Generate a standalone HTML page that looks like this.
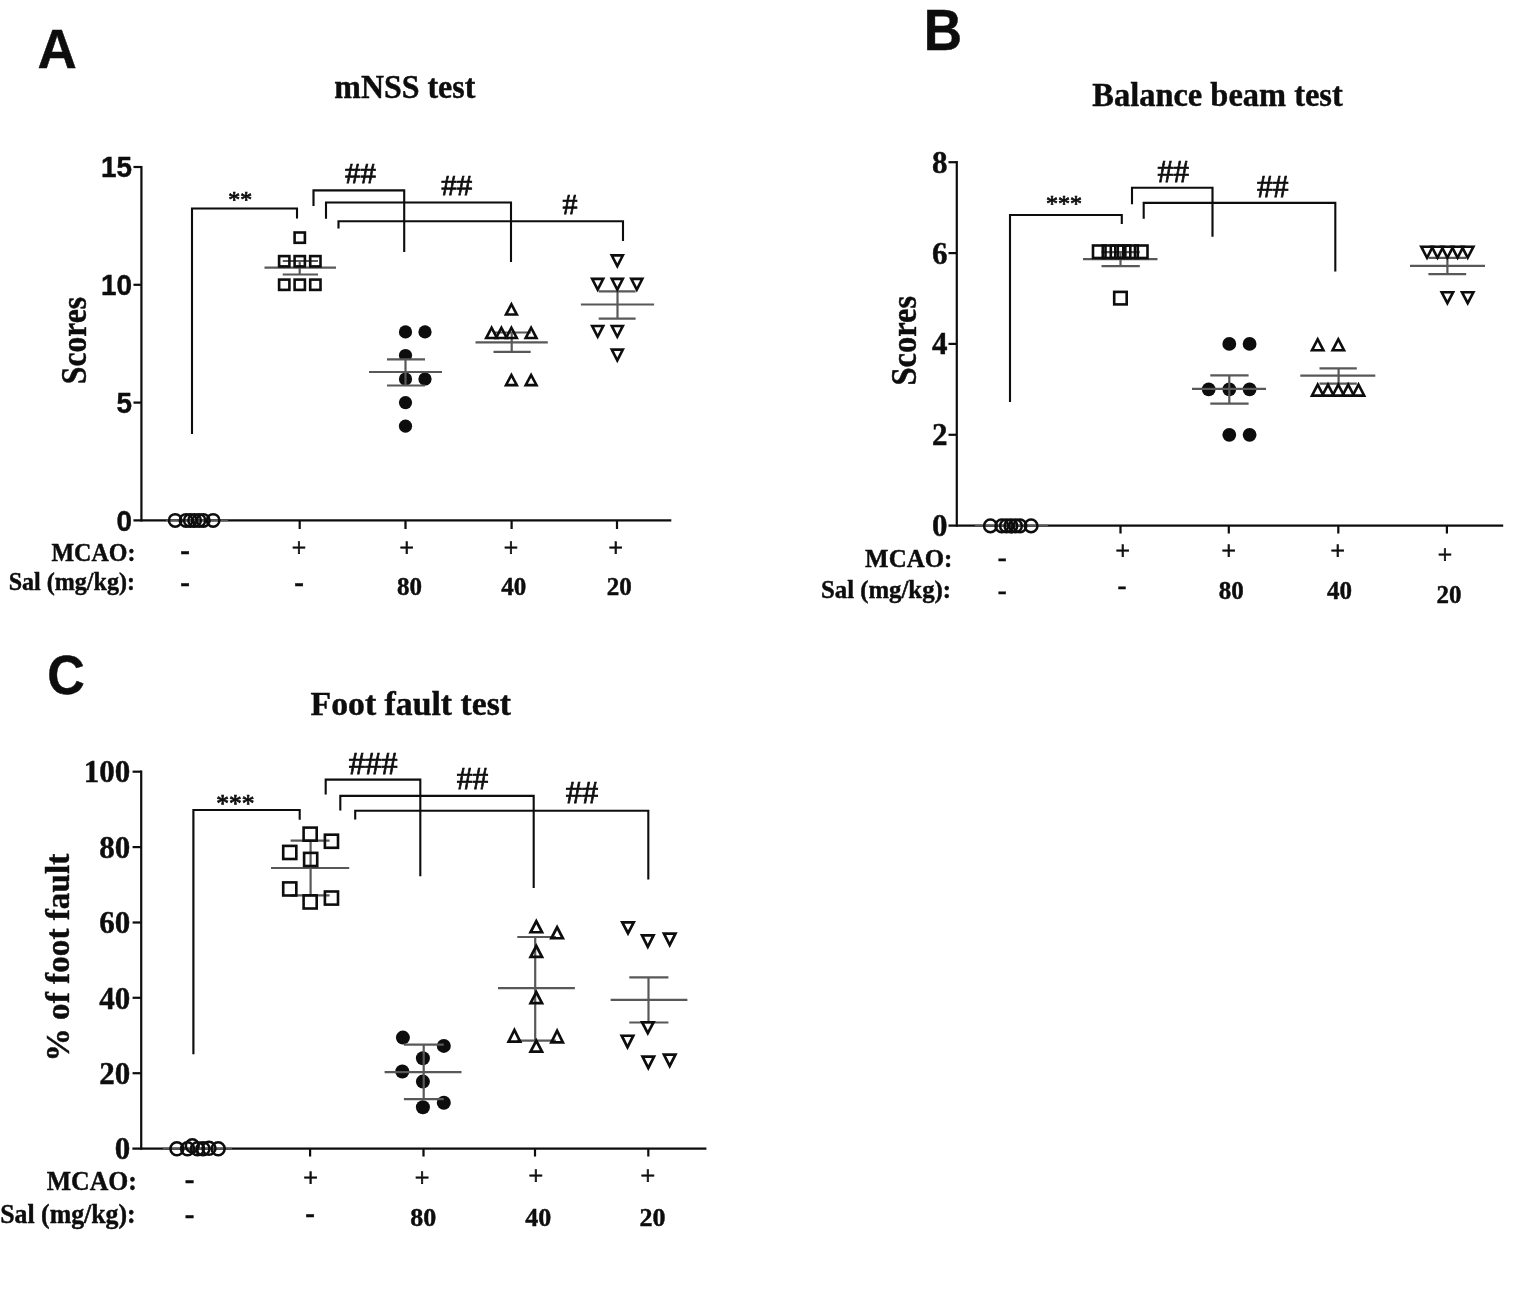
<!DOCTYPE html>
<html><head><meta charset="utf-8"><title>Figure</title>
<style>html,body{margin:0;padding:0;background:#fff}svg{display:block}text{fill:#0a0a0a}</style>
</head><body>
<svg width="1535" height="1314" viewBox="0 0 1535 1314">
<defs><filter id="soft" x="0" y="0" width="100%" height="100%" filterUnits="userSpaceOnUse"><feGaussianBlur stdDeviation="0.45"/></filter></defs>
<rect width="1535" height="1314" fill="#ffffff"/>
<g filter="url(#soft)">
<g id="panelA">
<text x="37.6" y="68.0" font-family='"Liberation Sans","DejaVu Sans",sans-serif' font-size="55.5" font-weight="bold" textLength="39.3" lengthAdjust="spacingAndGlyphs" stroke="#0a0a0a" stroke-width="0.4">A</text>
<text x="334.3" y="98.2" font-family='"Liberation Serif","DejaVu Serif",serif' font-size="33" font-weight="bold" textLength="141.0" lengthAdjust="spacingAndGlyphs" stroke="#0a0a0a" stroke-width="0.4">mNSS test</text>
<text x="86.0" y="384.2" font-family='"Liberation Serif","DejaVu Serif",serif' font-size="35" font-weight="bold" textLength="87.3" lengthAdjust="spacingAndGlyphs" transform="rotate(-90 86.0 384.2)" stroke="#0a0a0a" stroke-width="0.4">Scores</text>
<line x1="141.4" y1="165.9" x2="141.4" y2="521.5" stroke="#0a0a0a" stroke-width="2.2" stroke-linecap="butt"/>
<line x1="133.5" y1="520.4" x2="671.3" y2="520.4" stroke="#0a0a0a" stroke-width="2.2" stroke-linecap="butt"/>
<line x1="133.5" y1="402.6" x2="141.4" y2="402.6" stroke="#0a0a0a" stroke-width="2.2" stroke-linecap="butt"/>
<line x1="133.5" y1="284.8" x2="141.4" y2="284.8" stroke="#0a0a0a" stroke-width="2.2" stroke-linecap="butt"/>
<line x1="133.5" y1="167.0" x2="141.4" y2="167.0" stroke="#0a0a0a" stroke-width="2.2" stroke-linecap="butt"/>
<text x="131.9" y="530.8" font-family='"Liberation Sans","DejaVu Sans",sans-serif' font-size="29.5" font-weight="bold" text-anchor="end" textLength="15.5" lengthAdjust="spacingAndGlyphs" stroke="#0a0a0a" stroke-width="0.4">0</text>
<text x="131.9" y="413.0" font-family='"Liberation Sans","DejaVu Sans",sans-serif' font-size="29.5" font-weight="bold" text-anchor="end" textLength="15.5" lengthAdjust="spacingAndGlyphs" stroke="#0a0a0a" stroke-width="0.4">5</text>
<text x="131.9" y="295.2" font-family='"Liberation Sans","DejaVu Sans",sans-serif' font-size="29.5" font-weight="bold" text-anchor="end" textLength="31.0" lengthAdjust="spacingAndGlyphs" stroke="#0a0a0a" stroke-width="0.4">10</text>
<text x="131.9" y="177.4" font-family='"Liberation Sans","DejaVu Sans",sans-serif' font-size="29.5" font-weight="bold" text-anchor="end" textLength="31.0" lengthAdjust="spacingAndGlyphs" stroke="#0a0a0a" stroke-width="0.4">15</text>
<line x1="299.7" y1="520.4" x2="299.7" y2="529.0" stroke="#0a0a0a" stroke-width="2.2" stroke-linecap="butt"/>
<line x1="405.5" y1="520.4" x2="405.5" y2="529.0" stroke="#0a0a0a" stroke-width="2.2" stroke-linecap="butt"/>
<line x1="511.6" y1="520.4" x2="511.6" y2="529.0" stroke="#0a0a0a" stroke-width="2.2" stroke-linecap="butt"/>
<line x1="617.0" y1="520.4" x2="617.0" y2="529.0" stroke="#0a0a0a" stroke-width="2.2" stroke-linecap="butt"/>
<line x1="193.9" y1="520.4" x2="193.9" y2="527.6" stroke="#0a0a0a" stroke-width="2.2" stroke-linecap="butt"/>
<line x1="166.0" y1="520.4" x2="228.0" y2="520.4" stroke="#595959" stroke-width="1.6" stroke-linecap="butt"/>
<circle cx="175.2" cy="520.4" r="6.25" fill="#fff" fill-opacity="0" stroke="#0a0a0a" stroke-width="2.5"/>
<circle cx="186.0" cy="520.4" r="6.25" fill="#fff" fill-opacity="0" stroke="#0a0a0a" stroke-width="2.5"/>
<circle cx="190.3" cy="520.4" r="6.25" fill="#fff" fill-opacity="0" stroke="#0a0a0a" stroke-width="2.5"/>
<circle cx="194.6" cy="520.4" r="6.25" fill="#fff" fill-opacity="0" stroke="#0a0a0a" stroke-width="2.5"/>
<circle cx="199.0" cy="520.4" r="6.25" fill="#fff" fill-opacity="0" stroke="#0a0a0a" stroke-width="2.5"/>
<circle cx="203.3" cy="520.4" r="6.25" fill="#fff" fill-opacity="0" stroke="#0a0a0a" stroke-width="2.5"/>
<circle cx="213.1" cy="520.4" r="6.25" fill="#fff" fill-opacity="0" stroke="#0a0a0a" stroke-width="2.5"/>
<line x1="264.5" y1="267.7" x2="336.0" y2="267.7" stroke="#595959" stroke-width="2.2" stroke-linecap="butt"/>
<line x1="282.7" y1="261.0" x2="318.0" y2="261.0" stroke="#595959" stroke-width="2.2" stroke-linecap="butt"/>
<line x1="282.7" y1="274.5" x2="318.0" y2="274.5" stroke="#595959" stroke-width="2.2" stroke-linecap="butt"/>
<line x1="299.7" y1="261.0" x2="299.7" y2="274.5" stroke="#595959" stroke-width="2.2" stroke-linecap="butt"/>
<rect x="294.6" y="232.5" width="10.3" height="10.3" fill="none" stroke="#0a0a0a" stroke-width="2.6"/>
<rect x="279.1" y="256.1" width="10.3" height="10.3" fill="none" stroke="#0a0a0a" stroke-width="2.6"/>
<rect x="279.1" y="279.6" width="10.3" height="10.3" fill="none" stroke="#0a0a0a" stroke-width="2.6"/>
<rect x="294.6" y="256.1" width="10.3" height="10.3" fill="none" stroke="#0a0a0a" stroke-width="2.6"/>
<rect x="294.6" y="279.6" width="10.3" height="10.3" fill="none" stroke="#0a0a0a" stroke-width="2.6"/>
<rect x="310.2" y="256.1" width="10.3" height="10.3" fill="none" stroke="#0a0a0a" stroke-width="2.6"/>
<rect x="310.2" y="279.6" width="10.3" height="10.3" fill="none" stroke="#0a0a0a" stroke-width="2.6"/>
<circle cx="405.5" cy="331.9" r="6.6" fill="#0a0a0a"/>
<circle cx="425.0" cy="331.9" r="6.6" fill="#0a0a0a"/>
<circle cx="405.5" cy="355.5" r="6.6" fill="#0a0a0a"/>
<circle cx="405.5" cy="379.0" r="6.6" fill="#0a0a0a"/>
<circle cx="425.0" cy="379.0" r="6.6" fill="#0a0a0a"/>
<circle cx="405.5" cy="402.6" r="6.6" fill="#0a0a0a"/>
<circle cx="405.5" cy="426.2" r="6.6" fill="#0a0a0a"/>
<rect x="397" y="360" width="17" height="5" fill="#fff"/>
<line x1="369.0" y1="372.0" x2="442.0" y2="372.0" stroke="#595959" stroke-width="2.2" stroke-linecap="butt"/>
<line x1="387.0" y1="359.4" x2="425.0" y2="359.4" stroke="#595959" stroke-width="2.2" stroke-linecap="butt"/>
<line x1="387.0" y1="385.5" x2="425.0" y2="385.5" stroke="#595959" stroke-width="2.2" stroke-linecap="butt"/>
<line x1="405.5" y1="359.4" x2="405.5" y2="385.5" stroke="#595959" stroke-width="2.2" stroke-linecap="butt"/>
<line x1="475.5" y1="342.3" x2="547.8" y2="342.3" stroke="#595959" stroke-width="2.2" stroke-linecap="butt"/>
<line x1="493.5" y1="332.5" x2="530.7" y2="332.5" stroke="#595959" stroke-width="2.2" stroke-linecap="butt"/>
<line x1="493.5" y1="351.9" x2="530.7" y2="351.9" stroke="#595959" stroke-width="2.2" stroke-linecap="butt"/>
<line x1="511.7" y1="332.5" x2="511.7" y2="351.9" stroke="#595959" stroke-width="2.2" stroke-linecap="butt"/>
<path d="M511.40,301.46 L518.95,315.76 L503.85,315.76 Z M511.40,307.03 L514.64,313.16 L508.16,313.16 Z" fill="#0a0a0a" fill-rule="evenodd"/>
<path d="M491.60,325.02 L499.15,339.32 L484.05,339.32 Z M491.60,330.59 L494.84,336.72 L488.36,336.72 Z" fill="#0a0a0a" fill-rule="evenodd"/>
<path d="M501.40,325.02 L508.95,339.32 L493.85,339.32 Z M501.40,330.59 L504.64,336.72 L498.16,336.72 Z" fill="#0a0a0a" fill-rule="evenodd"/>
<path d="M511.40,325.02 L518.95,339.32 L503.85,339.32 Z M511.40,330.59 L514.64,336.72 L508.16,336.72 Z" fill="#0a0a0a" fill-rule="evenodd"/>
<path d="M531.10,325.02 L538.65,339.32 L523.55,339.32 Z M531.10,330.59 L534.34,336.72 L527.86,336.72 Z" fill="#0a0a0a" fill-rule="evenodd"/>
<path d="M511.40,372.14 L518.95,386.44 L503.85,386.44 Z M511.40,377.71 L514.64,383.84 L508.16,383.84 Z" fill="#0a0a0a" fill-rule="evenodd"/>
<path d="M531.10,372.14 L538.65,386.44 L523.55,386.44 Z M531.10,377.71 L534.34,383.84 L527.86,383.84 Z" fill="#0a0a0a" fill-rule="evenodd"/>
<line x1="580.9" y1="304.5" x2="654.1" y2="304.5" stroke="#595959" stroke-width="2.2" stroke-linecap="butt"/>
<line x1="598.7" y1="291.4" x2="635.6" y2="291.4" stroke="#595959" stroke-width="2.2" stroke-linecap="butt"/>
<line x1="598.7" y1="318.6" x2="635.6" y2="318.6" stroke="#595959" stroke-width="2.2" stroke-linecap="butt"/>
<line x1="617.5" y1="291.4" x2="617.5" y2="318.6" stroke="#595959" stroke-width="2.2" stroke-linecap="butt"/>
<path d="M609.65,254.04 L624.95,254.04 L617.30,268.94 Z M613.91,256.64 L620.69,256.64 L617.30,263.25 Z" fill="#0a0a0a" fill-rule="evenodd"/>
<path d="M590.05,277.60 L605.35,277.60 L597.70,292.50 Z M594.31,280.20 L601.09,280.20 L597.70,286.81 Z" fill="#0a0a0a" fill-rule="evenodd"/>
<path d="M609.65,277.60 L624.95,277.60 L617.30,292.50 Z M613.91,280.20 L620.69,280.20 L617.30,286.81 Z" fill="#0a0a0a" fill-rule="evenodd"/>
<path d="M629.15,277.60 L644.45,277.60 L636.80,292.50 Z M633.41,280.20 L640.19,280.20 L636.80,286.81 Z" fill="#0a0a0a" fill-rule="evenodd"/>
<path d="M590.05,324.72 L605.35,324.72 L597.70,339.62 Z M594.31,327.32 L601.09,327.32 L597.70,333.93 Z" fill="#0a0a0a" fill-rule="evenodd"/>
<path d="M609.65,324.72 L624.95,324.72 L617.30,339.62 Z M613.91,327.32 L620.69,327.32 L617.30,333.93 Z" fill="#0a0a0a" fill-rule="evenodd"/>
<path d="M609.65,348.28 L624.95,348.28 L617.30,363.18 Z M613.91,350.88 L620.69,350.88 L617.30,357.49 Z" fill="#0a0a0a" fill-rule="evenodd"/>
<polyline points="192.0,434.0 192.0,208.5 297.0,208.5 297.0,218.4" fill="none" stroke="#0a0a0a" stroke-width="2.1" stroke-linejoin="miter"/>
<polyline points="313.5,206.0 313.5,190.4 404.2,190.4 404.2,252.0" fill="none" stroke="#0a0a0a" stroke-width="2.1" stroke-linejoin="miter"/>
<polyline points="326.0,218.7 326.0,202.5 511.0,202.5 511.0,262.0" fill="none" stroke="#0a0a0a" stroke-width="2.1" stroke-linejoin="miter"/>
<polyline points="338.5,228.6 338.5,221.3 623.0,221.3 623.0,241.0" fill="none" stroke="#0a0a0a" stroke-width="2.1" stroke-linejoin="miter"/>
<text x="240.2" y="206.6" font-family='"Liberation Serif","DejaVu Serif",serif' font-size="23.8" font-weight="normal" text-anchor="middle" stroke="#0a0a0a" stroke-width="0.75">**</text>
<text x="360.4" y="183.3" font-family='"Liberation Serif","DejaVu Serif",serif' font-size="30" font-weight="normal" text-anchor="middle" textLength="31.0" lengthAdjust="spacingAndGlyphs" stroke="#0a0a0a" stroke-width="0.75">##</text>
<text x="456.7" y="195.3" font-family='"Liberation Serif","DejaVu Serif",serif' font-size="30" font-weight="normal" text-anchor="middle" textLength="31.0" lengthAdjust="spacingAndGlyphs" stroke="#0a0a0a" stroke-width="0.75">##</text>
<text x="570.0" y="214.0" font-family='"Liberation Serif","DejaVu Serif",serif' font-size="30" font-weight="normal" text-anchor="middle" stroke="#0a0a0a" stroke-width="0.75">#</text>
<text x="135.4" y="560.7" font-family='"Liberation Serif","DejaVu Serif",serif' font-size="25.5" font-weight="bold" text-anchor="end" textLength="84.0" lengthAdjust="spacingAndGlyphs" stroke="#0a0a0a" stroke-width="0.4">MCAO:</text>
<text x="135.0" y="590.1" font-family='"Liberation Serif","DejaVu Serif",serif' font-size="25.5" font-weight="bold" text-anchor="end" textLength="126.3" lengthAdjust="spacingAndGlyphs" stroke="#0a0a0a" stroke-width="0.4">Sal (mg/kg):</text>
<text x="185.0" y="559.9" font-family='"Liberation Serif","DejaVu Serif",serif' font-size="29" font-weight="bold" text-anchor="middle" stroke="#0a0a0a" stroke-width="0.4">-</text>
<text x="185.0" y="592.3" font-family='"Liberation Serif","DejaVu Serif",serif' font-size="29" font-weight="bold" text-anchor="middle" stroke="#0a0a0a" stroke-width="0.4">-</text>
<text x="299.0" y="592.3" font-family='"Liberation Serif","DejaVu Serif",serif' font-size="29" font-weight="bold" text-anchor="middle" stroke="#0a0a0a" stroke-width="0.4">-</text>
<text x="299.0" y="556.0" font-family='"Liberation Serif","DejaVu Serif",serif' font-size="25.5" font-weight="normal" text-anchor="middle" stroke="#0a0a0a" stroke-width="0.75">+</text>
<text x="406.8" y="556.0" font-family='"Liberation Serif","DejaVu Serif",serif' font-size="25.5" font-weight="normal" text-anchor="middle" stroke="#0a0a0a" stroke-width="0.75">+</text>
<text x="511.0" y="556.0" font-family='"Liberation Serif","DejaVu Serif",serif' font-size="25.5" font-weight="normal" text-anchor="middle" stroke="#0a0a0a" stroke-width="0.75">+</text>
<text x="615.8" y="556.0" font-family='"Liberation Serif","DejaVu Serif",serif' font-size="25.5" font-weight="normal" text-anchor="middle" stroke="#0a0a0a" stroke-width="0.75">+</text>
<text x="409.4" y="595.0" font-family='"Liberation Serif","DejaVu Serif",serif' font-size="25" font-weight="bold" text-anchor="middle" stroke="#0a0a0a" stroke-width="0.4">80</text>
<text x="513.7" y="595.0" font-family='"Liberation Serif","DejaVu Serif",serif' font-size="25" font-weight="bold" text-anchor="middle" stroke="#0a0a0a" stroke-width="0.4">40</text>
<text x="619.2" y="595.0" font-family='"Liberation Serif","DejaVu Serif",serif' font-size="25" font-weight="bold" text-anchor="middle" stroke="#0a0a0a" stroke-width="0.4">20</text>
</g>
<g id="panelB">
<text x="923.8" y="50.3" font-family='"Liberation Sans","DejaVu Sans",sans-serif' font-size="57" font-weight="bold" textLength="38.3" lengthAdjust="spacingAndGlyphs" stroke="#0a0a0a" stroke-width="0.4">B</text>
<text x="1092.3" y="105.7" font-family='"Liberation Serif","DejaVu Serif",serif' font-size="33.5" font-weight="bold" textLength="250.5" lengthAdjust="spacingAndGlyphs" stroke="#0a0a0a" stroke-width="0.4">Balance beam test</text>
<text x="916.3" y="385.5" font-family='"Liberation Serif","DejaVu Serif",serif' font-size="35.5" font-weight="bold" textLength="89.7" lengthAdjust="spacingAndGlyphs" transform="rotate(-90 916.3 385.5)" stroke="#0a0a0a" stroke-width="0.4">Scores</text>
<line x1="956.8" y1="161.1" x2="956.8" y2="526.7" stroke="#0a0a0a" stroke-width="2.2" stroke-linecap="butt"/>
<line x1="948.5" y1="525.6" x2="1503.2" y2="525.6" stroke="#0a0a0a" stroke-width="2.2" stroke-linecap="butt"/>
<line x1="948.5" y1="434.8" x2="956.8" y2="434.8" stroke="#0a0a0a" stroke-width="2.2" stroke-linecap="butt"/>
<line x1="948.5" y1="343.9" x2="956.8" y2="343.9" stroke="#0a0a0a" stroke-width="2.2" stroke-linecap="butt"/>
<line x1="948.5" y1="253.1" x2="956.8" y2="253.1" stroke="#0a0a0a" stroke-width="2.2" stroke-linecap="butt"/>
<line x1="948.5" y1="162.2" x2="956.8" y2="162.2" stroke="#0a0a0a" stroke-width="2.2" stroke-linecap="butt"/>
<text x="947.4" y="536.0" font-family='"Liberation Serif","DejaVu Serif",serif' font-size="31" font-weight="bold" text-anchor="end" stroke="#0a0a0a" stroke-width="0.4">0</text>
<text x="947.4" y="445.2" font-family='"Liberation Serif","DejaVu Serif",serif' font-size="31" font-weight="bold" text-anchor="end" stroke="#0a0a0a" stroke-width="0.4">2</text>
<text x="947.4" y="354.3" font-family='"Liberation Serif","DejaVu Serif",serif' font-size="31" font-weight="bold" text-anchor="end" stroke="#0a0a0a" stroke-width="0.4">4</text>
<text x="947.4" y="263.5" font-family='"Liberation Serif","DejaVu Serif",serif' font-size="31" font-weight="bold" text-anchor="end" stroke="#0a0a0a" stroke-width="0.4">6</text>
<text x="947.4" y="172.6" font-family='"Liberation Serif","DejaVu Serif",serif' font-size="31" font-weight="bold" text-anchor="end" stroke="#0a0a0a" stroke-width="0.4">8</text>
<line x1="1011.6" y1="525.6" x2="1011.6" y2="533.5" stroke="#0a0a0a" stroke-width="2.2" stroke-linecap="butt"/>
<line x1="1120.5" y1="525.6" x2="1120.5" y2="533.5" stroke="#0a0a0a" stroke-width="2.2" stroke-linecap="butt"/>
<line x1="1228.8" y1="525.6" x2="1228.8" y2="533.5" stroke="#0a0a0a" stroke-width="2.2" stroke-linecap="butt"/>
<line x1="1338.3" y1="525.6" x2="1338.3" y2="533.5" stroke="#0a0a0a" stroke-width="2.2" stroke-linecap="butt"/>
<line x1="1446.9" y1="525.6" x2="1446.9" y2="533.5" stroke="#0a0a0a" stroke-width="2.2" stroke-linecap="butt"/>
<line x1="975.0" y1="525.6" x2="1048.0" y2="525.6" stroke="#595959" stroke-width="1.6" stroke-linecap="butt"/>
<circle cx="990.4" cy="525.9" r="6.3" fill="#fff" fill-opacity="0" stroke="#0a0a0a" stroke-width="2.5"/>
<circle cx="1001.8" cy="525.9" r="6.3" fill="#fff" fill-opacity="0" stroke="#0a0a0a" stroke-width="2.5"/>
<circle cx="1006.4" cy="525.9" r="6.3" fill="#fff" fill-opacity="0" stroke="#0a0a0a" stroke-width="2.5"/>
<circle cx="1010.9" cy="525.9" r="6.3" fill="#fff" fill-opacity="0" stroke="#0a0a0a" stroke-width="2.5"/>
<circle cx="1015.5" cy="525.9" r="6.3" fill="#fff" fill-opacity="0" stroke="#0a0a0a" stroke-width="2.5"/>
<circle cx="1020.0" cy="525.9" r="6.3" fill="#fff" fill-opacity="0" stroke="#0a0a0a" stroke-width="2.5"/>
<circle cx="1031.1" cy="525.9" r="6.3" fill="#fff" fill-opacity="0" stroke="#0a0a0a" stroke-width="2.5"/>
<line x1="1083.0" y1="259.2" x2="1157.5" y2="259.2" stroke="#595959" stroke-width="2.2" stroke-linecap="butt"/>
<line x1="1101.5" y1="252.2" x2="1139.8" y2="252.2" stroke="#595959" stroke-width="2.2" stroke-linecap="butt"/>
<line x1="1101.5" y1="266.1" x2="1139.8" y2="266.1" stroke="#595959" stroke-width="2.2" stroke-linecap="butt"/>
<line x1="1120.5" y1="252.2" x2="1120.5" y2="266.1" stroke="#595959" stroke-width="2.2" stroke-linecap="butt"/>
<rect x="1093.0" y="245.5" width="12.5" height="12.5" fill="none" stroke="#0a0a0a" stroke-width="2.6"/>
<rect x="1102.8" y="245.5" width="12.5" height="12.5" fill="none" stroke="#0a0a0a" stroke-width="2.6"/>
<rect x="1110.8" y="245.5" width="12.5" height="12.5" fill="none" stroke="#0a0a0a" stroke-width="2.6"/>
<rect x="1117.8" y="245.5" width="12.5" height="12.5" fill="none" stroke="#0a0a0a" stroke-width="2.6"/>
<rect x="1125.3" y="245.5" width="12.5" height="12.5" fill="none" stroke="#0a0a0a" stroke-width="2.6"/>
<rect x="1135.0" y="245.5" width="12.5" height="12.5" fill="none" stroke="#0a0a0a" stroke-width="2.6"/>
<rect x="1114.2" y="291.9" width="12.5" height="12.5" fill="none" stroke="#0a0a0a" stroke-width="2.6"/>
<circle cx="1229.3" cy="343.9" r="6.9" fill="#0a0a0a"/>
<circle cx="1249.6" cy="343.9" r="6.9" fill="#0a0a0a"/>
<circle cx="1208.7" cy="389.3" r="6.9" fill="#0a0a0a"/>
<circle cx="1229.3" cy="389.3" r="6.9" fill="#0a0a0a"/>
<circle cx="1249.6" cy="389.3" r="6.9" fill="#0a0a0a"/>
<circle cx="1229.3" cy="434.8" r="6.9" fill="#0a0a0a"/>
<circle cx="1249.6" cy="434.8" r="6.9" fill="#0a0a0a"/>
<line x1="1192.0" y1="388.9" x2="1266.0" y2="388.9" stroke="#595959" stroke-width="2.2" stroke-linecap="butt"/>
<line x1="1210.3" y1="375.3" x2="1248.6" y2="375.3" stroke="#595959" stroke-width="2.2" stroke-linecap="butt"/>
<line x1="1210.3" y1="403.7" x2="1248.6" y2="403.7" stroke="#595959" stroke-width="2.2" stroke-linecap="butt"/>
<line x1="1229.3" y1="375.3" x2="1229.3" y2="403.7" stroke="#595959" stroke-width="2.2" stroke-linecap="butt"/>
<line x1="1300.3" y1="375.6" x2="1375.3" y2="375.6" stroke="#595959" stroke-width="2.2" stroke-linecap="butt"/>
<line x1="1319.5" y1="368.3" x2="1356.8" y2="368.3" stroke="#595959" stroke-width="2.2" stroke-linecap="butt"/>
<line x1="1319.5" y1="383.6" x2="1356.8" y2="383.6" stroke="#595959" stroke-width="2.2" stroke-linecap="butt"/>
<line x1="1338.6" y1="368.3" x2="1338.6" y2="383.6" stroke="#595959" stroke-width="2.2" stroke-linecap="butt"/>
<path d="M1317.70,336.42 L1325.55,351.52 L1309.85,351.52 Z M1317.70,342.06 L1321.27,348.92 L1314.13,348.92 Z" fill="#0a0a0a" fill-rule="evenodd"/>
<path d="M1338.30,336.42 L1346.15,351.52 L1330.45,351.52 Z M1338.30,342.06 L1341.87,348.92 L1334.73,348.92 Z" fill="#0a0a0a" fill-rule="evenodd"/>
<path d="M1317.70,381.84 L1325.55,396.94 L1309.85,396.94 Z M1317.70,387.48 L1321.27,394.34 L1314.13,394.34 Z" fill="#0a0a0a" fill-rule="evenodd"/>
<path d="M1328.00,381.84 L1335.85,396.94 L1320.15,396.94 Z M1328.00,387.48 L1331.57,394.34 L1324.43,394.34 Z" fill="#0a0a0a" fill-rule="evenodd"/>
<path d="M1338.30,381.84 L1346.15,396.94 L1330.45,396.94 Z M1338.30,387.48 L1341.87,394.34 L1334.73,394.34 Z" fill="#0a0a0a" fill-rule="evenodd"/>
<path d="M1348.20,381.84 L1356.05,396.94 L1340.35,396.94 Z M1348.20,387.48 L1351.77,394.34 L1344.63,394.34 Z" fill="#0a0a0a" fill-rule="evenodd"/>
<path d="M1358.50,381.84 L1366.35,396.94 L1350.65,396.94 Z M1358.50,387.48 L1362.07,394.34 L1354.93,394.34 Z" fill="#0a0a0a" fill-rule="evenodd"/>
<line x1="1410.0" y1="265.9" x2="1485.0" y2="265.9" stroke="#595959" stroke-width="2.2" stroke-linecap="butt"/>
<line x1="1428.4" y1="257.8" x2="1466.2" y2="257.8" stroke="#595959" stroke-width="2.2" stroke-linecap="butt"/>
<line x1="1428.4" y1="274.2" x2="1466.2" y2="274.2" stroke="#595959" stroke-width="2.2" stroke-linecap="butt"/>
<line x1="1447.4" y1="257.8" x2="1447.4" y2="274.2" stroke="#595959" stroke-width="2.2" stroke-linecap="butt"/>
<path d="M1419.15,245.48 L1434.85,245.48 L1427.00,260.58 Z M1423.43,248.08 L1430.57,248.08 L1427.00,254.94 Z" fill="#0a0a0a" fill-rule="evenodd"/>
<path d="M1429.65,245.48 L1445.35,245.48 L1437.50,260.58 Z M1433.93,248.08 L1441.07,248.08 L1437.50,254.94 Z" fill="#0a0a0a" fill-rule="evenodd"/>
<path d="M1439.55,245.48 L1455.25,245.48 L1447.40,260.58 Z M1443.83,248.08 L1450.97,248.08 L1447.40,254.94 Z" fill="#0a0a0a" fill-rule="evenodd"/>
<path d="M1449.75,245.48 L1465.45,245.48 L1457.60,260.58 Z M1454.03,248.08 L1461.17,248.08 L1457.60,254.94 Z" fill="#0a0a0a" fill-rule="evenodd"/>
<path d="M1459.85,245.48 L1475.55,245.48 L1467.70,260.58 Z M1464.13,248.08 L1471.27,248.08 L1467.70,254.94 Z" fill="#0a0a0a" fill-rule="evenodd"/>
<path d="M1439.55,290.90 L1455.25,290.90 L1447.40,306.00 Z M1443.83,293.50 L1450.97,293.50 L1447.40,300.36 Z" fill="#0a0a0a" fill-rule="evenodd"/>
<path d="M1459.85,290.90 L1475.55,290.90 L1467.70,306.00 Z M1464.13,293.50 L1471.27,293.50 L1467.70,300.36 Z" fill="#0a0a0a" fill-rule="evenodd"/>
<polyline points="1010.0,402.0 1010.0,215.0 1121.8,215.0 1121.8,224.0" fill="none" stroke="#0a0a0a" stroke-width="2.1" stroke-linejoin="miter"/>
<polyline points="1132.0,204.3 1132.0,187.8 1212.5,187.8 1212.5,236.7" fill="none" stroke="#0a0a0a" stroke-width="2.1" stroke-linejoin="miter"/>
<polyline points="1143.7,218.7 1143.7,202.9 1335.3,202.9 1335.3,271.6" fill="none" stroke="#0a0a0a" stroke-width="2.1" stroke-linejoin="miter"/>
<text x="1064.0" y="210.8" font-family='"Liberation Serif","DejaVu Serif",serif' font-size="24" font-weight="normal" text-anchor="middle" stroke="#0a0a0a" stroke-width="0.75">***</text>
<text x="1173.2" y="181.6" font-family='"Liberation Serif","DejaVu Serif",serif' font-size="30.5" font-weight="normal" text-anchor="middle" textLength="31.5" lengthAdjust="spacingAndGlyphs" stroke="#0a0a0a" stroke-width="0.75">##</text>
<text x="1272.8" y="196.9" font-family='"Liberation Serif","DejaVu Serif",serif' font-size="30.5" font-weight="normal" text-anchor="middle" textLength="31.5" lengthAdjust="spacingAndGlyphs" stroke="#0a0a0a" stroke-width="0.75">##</text>
<text x="952.4" y="567.3" font-family='"Liberation Serif","DejaVu Serif",serif' font-size="25.7" font-weight="bold" text-anchor="end" textLength="87.3" lengthAdjust="spacingAndGlyphs" stroke="#0a0a0a" stroke-width="0.4">MCAO:</text>
<text x="951.0" y="597.7" font-family='"Liberation Serif","DejaVu Serif",serif' font-size="25.7" font-weight="bold" text-anchor="end" textLength="130.0" lengthAdjust="spacingAndGlyphs" stroke="#0a0a0a" stroke-width="0.4">Sal (mg/kg):</text>
<text x="1002.2" y="566.0" font-family='"Liberation Serif","DejaVu Serif",serif' font-size="27" font-weight="bold" text-anchor="middle" stroke="#0a0a0a" stroke-width="0.4">-</text>
<text x="1002.2" y="599.0" font-family='"Liberation Serif","DejaVu Serif",serif' font-size="27" font-weight="bold" text-anchor="middle" stroke="#0a0a0a" stroke-width="0.4">-</text>
<text x="1122.0" y="594.0" font-family='"Liberation Serif","DejaVu Serif",serif' font-size="27" font-weight="bold" text-anchor="middle" stroke="#0a0a0a" stroke-width="0.4">-</text>
<text x="1122.6" y="558.7" font-family='"Liberation Serif","DejaVu Serif",serif' font-size="25.5" font-weight="normal" text-anchor="middle" stroke="#0a0a0a" stroke-width="0.75">+</text>
<text x="1228.8" y="558.7" font-family='"Liberation Serif","DejaVu Serif",serif' font-size="25.5" font-weight="normal" text-anchor="middle" stroke="#0a0a0a" stroke-width="0.75">+</text>
<text x="1337.7" y="558.7" font-family='"Liberation Serif","DejaVu Serif",serif' font-size="25.5" font-weight="normal" text-anchor="middle" stroke="#0a0a0a" stroke-width="0.75">+</text>
<text x="1445.0" y="562.7" font-family='"Liberation Serif","DejaVu Serif",serif' font-size="25.5" font-weight="normal" text-anchor="middle" stroke="#0a0a0a" stroke-width="0.75">+</text>
<text x="1231.2" y="599.0" font-family='"Liberation Serif","DejaVu Serif",serif' font-size="25" font-weight="bold" text-anchor="middle" stroke="#0a0a0a" stroke-width="0.4">80</text>
<text x="1339.6" y="599.0" font-family='"Liberation Serif","DejaVu Serif",serif' font-size="25" font-weight="bold" text-anchor="middle" stroke="#0a0a0a" stroke-width="0.4">40</text>
<text x="1448.9" y="602.9" font-family='"Liberation Serif","DejaVu Serif",serif' font-size="25" font-weight="bold" text-anchor="middle" stroke="#0a0a0a" stroke-width="0.4">20</text>
</g>
<g id="panelC">
<text x="47.3" y="693.9" font-family='"Liberation Sans","DejaVu Sans",sans-serif' font-size="55" font-weight="bold" textLength="37.5" lengthAdjust="spacingAndGlyphs" stroke="#0a0a0a" stroke-width="0.4">C</text>
<text x="310.6" y="715.3" font-family='"Liberation Serif","DejaVu Serif",serif' font-size="34.3" font-weight="bold" textLength="200.5" lengthAdjust="spacingAndGlyphs" stroke="#0a0a0a" stroke-width="0.4">Foot fault test</text>
<text x="69.2" y="1061.5" font-family='"Liberation Serif","DejaVu Serif",serif' font-size="34.3" font-weight="bold" textLength="207.8" lengthAdjust="spacingAndGlyphs" transform="rotate(-90 69.2 1061.5)" stroke="#0a0a0a" stroke-width="0.4">% of foot fault</text>
<line x1="141.2" y1="770.6" x2="141.2" y2="1149.7" stroke="#0a0a0a" stroke-width="2.2" stroke-linecap="butt"/>
<line x1="132.4" y1="1148.6" x2="706.4" y2="1148.6" stroke="#0a0a0a" stroke-width="2.2" stroke-linecap="butt"/>
<line x1="132.6" y1="1073.2" x2="141.2" y2="1073.2" stroke="#0a0a0a" stroke-width="2.2" stroke-linecap="butt"/>
<line x1="132.6" y1="997.8" x2="141.2" y2="997.8" stroke="#0a0a0a" stroke-width="2.2" stroke-linecap="butt"/>
<line x1="132.6" y1="922.5" x2="141.2" y2="922.5" stroke="#0a0a0a" stroke-width="2.2" stroke-linecap="butt"/>
<line x1="132.6" y1="847.1" x2="141.2" y2="847.1" stroke="#0a0a0a" stroke-width="2.2" stroke-linecap="butt"/>
<line x1="132.6" y1="771.7" x2="141.2" y2="771.7" stroke="#0a0a0a" stroke-width="2.2" stroke-linecap="butt"/>
<text x="130.3" y="1159.3" font-family='"Liberation Serif","DejaVu Serif",serif' font-size="31" font-weight="bold" text-anchor="end" stroke="#0a0a0a" stroke-width="0.4">0</text>
<text x="130.3" y="1083.9" font-family='"Liberation Serif","DejaVu Serif",serif' font-size="31" font-weight="bold" text-anchor="end" stroke="#0a0a0a" stroke-width="0.4">20</text>
<text x="130.3" y="1008.5" font-family='"Liberation Serif","DejaVu Serif",serif' font-size="31" font-weight="bold" text-anchor="end" stroke="#0a0a0a" stroke-width="0.4">40</text>
<text x="130.3" y="933.2" font-family='"Liberation Serif","DejaVu Serif",serif' font-size="31" font-weight="bold" text-anchor="end" stroke="#0a0a0a" stroke-width="0.4">60</text>
<text x="130.3" y="857.8" font-family='"Liberation Serif","DejaVu Serif",serif' font-size="31" font-weight="bold" text-anchor="end" stroke="#0a0a0a" stroke-width="0.4">80</text>
<text x="130.3" y="782.4" font-family='"Liberation Serif","DejaVu Serif",serif' font-size="31" font-weight="bold" text-anchor="end" stroke="#0a0a0a" stroke-width="0.4">100</text>
<line x1="310.1" y1="1148.6" x2="310.1" y2="1156.5" stroke="#0a0a0a" stroke-width="2.2" stroke-linecap="butt"/>
<line x1="423.5" y1="1148.6" x2="423.5" y2="1156.5" stroke="#0a0a0a" stroke-width="2.2" stroke-linecap="butt"/>
<line x1="535.0" y1="1148.6" x2="535.0" y2="1156.5" stroke="#0a0a0a" stroke-width="2.2" stroke-linecap="butt"/>
<line x1="648.3" y1="1148.6" x2="648.3" y2="1156.5" stroke="#0a0a0a" stroke-width="2.2" stroke-linecap="butt"/>
<line x1="197.4" y1="1148.6" x2="197.4" y2="1155.6" stroke="#0a0a0a" stroke-width="2.2" stroke-linecap="butt"/>
<line x1="163.0" y1="1148.6" x2="232.0" y2="1148.6" stroke="#595959" stroke-width="1.6" stroke-linecap="butt"/>
<circle cx="176.9" cy="1148.7" r="6.45" fill="#fff" fill-opacity="0" stroke="#0a0a0a" stroke-width="2.5"/>
<circle cx="187.5" cy="1148.7" r="6.45" fill="#fff" fill-opacity="0" stroke="#0a0a0a" stroke-width="2.5"/>
<circle cx="192.3" cy="1145.8" r="6.45" fill="#fff" fill-opacity="0" stroke="#0a0a0a" stroke-width="2.5"/>
<circle cx="197.5" cy="1148.7" r="6.45" fill="#fff" fill-opacity="0" stroke="#0a0a0a" stroke-width="2.5"/>
<circle cx="203.0" cy="1148.7" r="6.45" fill="#fff" fill-opacity="0" stroke="#0a0a0a" stroke-width="2.5"/>
<circle cx="209.0" cy="1148.2" r="6.45" fill="#fff" fill-opacity="0" stroke="#0a0a0a" stroke-width="2.5"/>
<circle cx="218.2" cy="1148.7" r="6.45" fill="#fff" fill-opacity="0" stroke="#0a0a0a" stroke-width="2.5"/>
<line x1="271.0" y1="868.0" x2="349.2" y2="868.0" stroke="#595959" stroke-width="2.2" stroke-linecap="butt"/>
<line x1="290.6" y1="840.6" x2="329.6" y2="840.6" stroke="#595959" stroke-width="2.2" stroke-linecap="butt"/>
<line x1="290.6" y1="895.4" x2="329.6" y2="895.4" stroke="#595959" stroke-width="2.2" stroke-linecap="butt"/>
<line x1="310.6" y1="840.6" x2="310.6" y2="895.4" stroke="#595959" stroke-width="2.2" stroke-linecap="butt"/>
<rect x="303.6" y="827.6" width="13.1" height="13.1" fill="none" stroke="#0a0a0a" stroke-width="2.6"/>
<rect x="324.9" y="834.7" width="13.1" height="13.1" fill="none" stroke="#0a0a0a" stroke-width="2.6"/>
<rect x="283.2" y="845.9" width="13.1" height="13.1" fill="none" stroke="#0a0a0a" stroke-width="2.6"/>
<rect x="304.1" y="852.9" width="13.1" height="13.1" fill="none" stroke="#0a0a0a" stroke-width="2.6"/>
<rect x="283.2" y="882.4" width="13.1" height="13.1" fill="none" stroke="#0a0a0a" stroke-width="2.6"/>
<rect x="324.9" y="891.5" width="13.1" height="13.1" fill="none" stroke="#0a0a0a" stroke-width="2.6"/>
<rect x="303.6" y="895.4" width="13.1" height="13.1" fill="none" stroke="#0a0a0a" stroke-width="2.6"/>
<circle cx="402.9" cy="1037.6" r="7" fill="#0a0a0a"/>
<circle cx="443.8" cy="1045.9" r="7" fill="#0a0a0a"/>
<circle cx="422.9" cy="1058.2" r="7" fill="#0a0a0a"/>
<circle cx="402.3" cy="1071.5" r="7" fill="#0a0a0a"/>
<circle cx="422.9" cy="1081.6" r="7" fill="#0a0a0a"/>
<circle cx="443.8" cy="1102.7" r="7" fill="#0a0a0a"/>
<circle cx="422.9" cy="1107.2" r="7" fill="#0a0a0a"/>
<line x1="384.6" y1="1072.2" x2="461.5" y2="1072.2" stroke="#595959" stroke-width="2.2" stroke-linecap="butt"/>
<line x1="403.9" y1="1044.6" x2="443.8" y2="1044.6" stroke="#595959" stroke-width="2.2" stroke-linecap="butt"/>
<line x1="403.9" y1="1099.1" x2="443.8" y2="1099.1" stroke="#595959" stroke-width="2.2" stroke-linecap="butt"/>
<line x1="423.7" y1="1044.6" x2="423.7" y2="1099.1" stroke="#595959" stroke-width="2.2" stroke-linecap="butt"/>
<line x1="498.0" y1="988.1" x2="574.9" y2="988.1" stroke="#595959" stroke-width="2.2" stroke-linecap="butt"/>
<line x1="517.3" y1="937.0" x2="556.0" y2="937.0" stroke="#595959" stroke-width="2.2" stroke-linecap="butt"/>
<line x1="517.3" y1="1040.7" x2="556.0" y2="1040.7" stroke="#595959" stroke-width="2.2" stroke-linecap="butt"/>
<line x1="535.2" y1="937.0" x2="535.2" y2="1040.7" stroke="#595959" stroke-width="2.2" stroke-linecap="butt"/>
<path d="M536.30,918.30 L544.25,933.60 L528.35,933.60 Z M536.30,924.16 L539.80,930.90 L532.80,930.90 Z" fill="#0a0a0a" fill-rule="evenodd"/>
<path d="M557.10,924.30 L565.05,939.60 L549.15,939.60 Z M557.10,930.16 L560.60,936.90 L553.60,936.90 Z" fill="#0a0a0a" fill-rule="evenodd"/>
<path d="M536.30,943.10 L544.25,958.30 L528.35,958.30 Z M536.30,948.93 L539.79,955.60 L532.81,955.60 Z" fill="#0a0a0a" fill-rule="evenodd"/>
<path d="M536.30,989.30 L544.25,1004.50 L528.35,1004.50 Z M536.30,995.13 L539.79,1001.80 L532.81,1001.80 Z" fill="#0a0a0a" fill-rule="evenodd"/>
<path d="M514.40,1027.00 L522.35,1043.00 L506.45,1043.00 Z M514.40,1033.07 L517.99,1040.30 L510.81,1040.30 Z" fill="#0a0a0a" fill-rule="evenodd"/>
<path d="M557.10,1027.80 L565.05,1043.80 L549.15,1043.80 Z M557.10,1033.87 L560.69,1041.10 L553.51,1041.10 Z" fill="#0a0a0a" fill-rule="evenodd"/>
<path d="M536.30,1037.80 L544.25,1053.00 L528.35,1053.00 Z M536.30,1043.63 L539.79,1050.30 L532.81,1050.30 Z" fill="#0a0a0a" fill-rule="evenodd"/>
<line x1="610.6" y1="999.8" x2="687.4" y2="999.8" stroke="#595959" stroke-width="2.2" stroke-linecap="butt"/>
<line x1="629.3" y1="977.4" x2="668.4" y2="977.4" stroke="#595959" stroke-width="2.2" stroke-linecap="butt"/>
<line x1="629.3" y1="1022.5" x2="668.4" y2="1022.5" stroke="#595959" stroke-width="2.2" stroke-linecap="butt"/>
<line x1="648.5" y1="977.4" x2="648.5" y2="1022.5" stroke="#595959" stroke-width="2.2" stroke-linecap="butt"/>
<path d="M620.05,921.00 L635.95,921.00 L628.00,936.20 Z M624.51,923.70 L631.49,923.70 L628.00,930.37 Z" fill="#0a0a0a" fill-rule="evenodd"/>
<path d="M639.85,934.10 L655.75,934.10 L647.80,949.70 Z M644.26,936.80 L651.34,936.80 L647.80,943.75 Z" fill="#0a0a0a" fill-rule="evenodd"/>
<path d="M661.75,932.30 L677.65,932.30 L669.70,947.90 Z M666.16,935.00 L673.24,935.00 L669.70,941.95 Z" fill="#0a0a0a" fill-rule="evenodd"/>
<path d="M639.85,1020.90 L655.75,1020.90 L647.80,1036.00 Z M644.32,1023.60 L651.28,1023.60 L647.80,1030.20 Z" fill="#0a0a0a" fill-rule="evenodd"/>
<path d="M619.55,1034.40 L635.45,1034.40 L627.50,1050.30 Z M623.92,1037.10 L631.08,1037.10 L627.50,1044.26 Z" fill="#0a0a0a" fill-rule="evenodd"/>
<path d="M640.35,1055.30 L656.25,1055.30 L648.30,1070.90 Z M644.76,1058.00 L651.84,1058.00 L648.30,1064.95 Z" fill="#0a0a0a" fill-rule="evenodd"/>
<path d="M661.75,1053.20 L677.65,1053.20 L669.70,1069.10 Z M666.12,1055.90 L673.28,1055.90 L669.70,1063.06 Z" fill="#0a0a0a" fill-rule="evenodd"/>
<polyline points="193.4,1054.3 193.4,810.0 299.7,810.0 299.7,819.8" fill="none" stroke="#0a0a0a" stroke-width="2.1" stroke-linejoin="miter"/>
<polyline points="325.7,794.5 325.7,779.6 420.3,779.6 420.3,876.3" fill="none" stroke="#0a0a0a" stroke-width="2.1" stroke-linejoin="miter"/>
<polyline points="340.3,810.6 340.3,795.9 533.7,795.9 533.7,888.0" fill="none" stroke="#0a0a0a" stroke-width="2.1" stroke-linejoin="miter"/>
<polyline points="355.2,819.5 355.2,810.8 648.3,810.8 648.3,879.4" fill="none" stroke="#0a0a0a" stroke-width="2.1" stroke-linejoin="miter"/>
<text x="235.4" y="812.0" font-family='"Liberation Serif","DejaVu Serif",serif' font-size="25.5" font-weight="normal" text-anchor="middle" stroke="#0a0a0a" stroke-width="0.75">***</text>
<text x="373.2" y="774.1" font-family='"Liberation Serif","DejaVu Serif",serif' font-size="31" font-weight="normal" text-anchor="middle" textLength="49.0" lengthAdjust="spacingAndGlyphs" stroke="#0a0a0a" stroke-width="0.75">###</text>
<text x="472.4" y="789.0" font-family='"Liberation Serif","DejaVu Serif",serif' font-size="31" font-weight="normal" text-anchor="middle" textLength="31.5" lengthAdjust="spacingAndGlyphs" stroke="#0a0a0a" stroke-width="0.75">##</text>
<text x="582.0" y="802.8" font-family='"Liberation Serif","DejaVu Serif",serif' font-size="31" font-weight="normal" text-anchor="middle" textLength="32.5" lengthAdjust="spacingAndGlyphs" stroke="#0a0a0a" stroke-width="0.75">##</text>
<text x="136.9" y="1190.3" font-family='"Liberation Serif","DejaVu Serif",serif' font-size="27.3" font-weight="bold" text-anchor="end" textLength="90.2" lengthAdjust="spacingAndGlyphs" stroke="#0a0a0a" stroke-width="0.4">MCAO:</text>
<text x="135.7" y="1223.3" font-family='"Liberation Serif","DejaVu Serif",serif' font-size="27" font-weight="bold" text-anchor="end" textLength="135.5" lengthAdjust="spacingAndGlyphs" stroke="#0a0a0a" stroke-width="0.4">Sal (mg/kg):</text>
<text x="189.5" y="1189.0" font-family='"Liberation Serif","DejaVu Serif",serif' font-size="29" font-weight="bold" text-anchor="middle" stroke="#0a0a0a" stroke-width="0.4">-</text>
<text x="189.5" y="1224.0" font-family='"Liberation Serif","DejaVu Serif",serif' font-size="29" font-weight="bold" text-anchor="middle" stroke="#0a0a0a" stroke-width="0.4">-</text>
<text x="310.1" y="1223.0" font-family='"Liberation Serif","DejaVu Serif",serif' font-size="29" font-weight="bold" text-anchor="middle" stroke="#0a0a0a" stroke-width="0.4">-</text>
<text x="310.6" y="1186.4" font-family='"Liberation Serif","DejaVu Serif",serif' font-size="26" font-weight="normal" text-anchor="middle" stroke="#0a0a0a" stroke-width="0.75">+</text>
<text x="422.1" y="1185.5" font-family='"Liberation Serif","DejaVu Serif",serif' font-size="26" font-weight="normal" text-anchor="middle" stroke="#0a0a0a" stroke-width="0.75">+</text>
<text x="535.8" y="1184.2" font-family='"Liberation Serif","DejaVu Serif",serif' font-size="26" font-weight="normal" text-anchor="middle" stroke="#0a0a0a" stroke-width="0.75">+</text>
<text x="647.8" y="1184.2" font-family='"Liberation Serif","DejaVu Serif",serif' font-size="26" font-weight="normal" text-anchor="middle" stroke="#0a0a0a" stroke-width="0.75">+</text>
<text x="423.2" y="1226.3" font-family='"Liberation Serif","DejaVu Serif",serif' font-size="26" font-weight="bold" text-anchor="middle" stroke="#0a0a0a" stroke-width="0.4">80</text>
<text x="538.2" y="1226.3" font-family='"Liberation Serif","DejaVu Serif",serif' font-size="26" font-weight="bold" text-anchor="middle" stroke="#0a0a0a" stroke-width="0.4">40</text>
<text x="652.6" y="1226.3" font-family='"Liberation Serif","DejaVu Serif",serif' font-size="26" font-weight="bold" text-anchor="middle" stroke="#0a0a0a" stroke-width="0.4">20</text>
</g>
</g>
</svg>
</body></html>
